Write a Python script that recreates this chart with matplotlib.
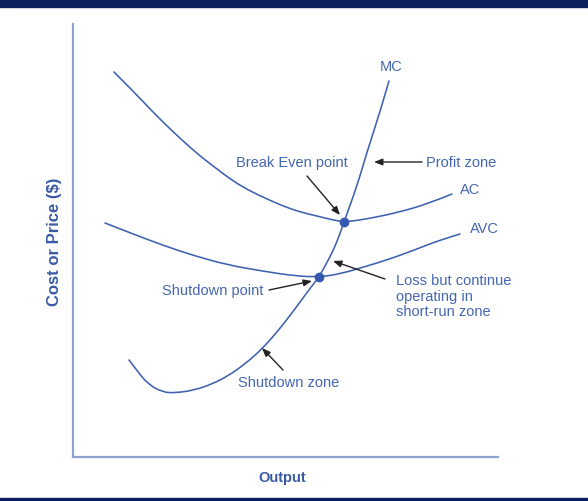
import matplotlib.pyplot as plt
from matplotlib.patches import Rectangle, PathPatch
from matplotlib.path import Path

# curve points (output, cost) - origin at the axis corner
ac_x = [41, 60, 77, 94, 110, 127, 144, 160, 177, 194, 210, 227, 244, 260, 272, 294, 327, 357, 379]
ac_y = [385, 366, 348, 331, 316, 301, 288, 276, 266, 258, 251, 245, 241, 237, 235, 238, 245, 254, 263]

avc_x = [32, 55, 89, 122, 155, 189, 222, 246, 267, 294, 317, 344, 367, 387]
avc_y = [234, 225, 212, 201, 192, 186, 181, 180, 183, 191, 198, 208, 217, 223]

mc_x = [56, 65, 75, 89, 102, 122, 139, 155, 172, 189, 205, 222, 235, 246, 257, 264, 271, 284, 294, 307, 316]
mc_y = [97, 85, 73, 65, 64, 67, 73, 81, 93, 108, 126, 148, 166, 180, 200, 215, 235, 271, 305, 345, 376]

break_even = (271, 235)
shutdown = (246, 180)

curve_col = '#3f62b0'
text_col = '#4466b2'
title_col = '#3a5aa6'
axis_col = '#8da1d2'
navy = '#0b1f5c'


def smooth_curve(ax, xs, ys):
    # quadratic bezier through midpoints, read points act as control points
    pts = list(zip(xs, ys))
    verts = [pts[0]]
    codes = [Path.MOVETO]
    for i in range(1, len(pts) - 1):
        mid = ((pts[i][0] + pts[i + 1][0]) / 2, (pts[i][1] + pts[i + 1][1]) / 2)
        if i == len(pts) - 2:
            mid = pts[-1]
        verts += [pts[i], mid]
        codes += [Path.CURVE3, Path.CURVE3]
    ax.add_patch(PathPatch(Path(verts, codes), facecolor='none', edgecolor=curve_col,
                           lw=1.15, capstyle='round'))


fig = plt.figure(figsize=(5.88, 5.02), dpi=100)
plt.rcParams['font.family'] = ['Liberation Sans', 'DejaVu Sans']

ax = fig.add_axes([73 / 588, 44 / 502, 425 / 588, 433 / 502])
ax.set_xlim(0, 425)
ax.set_ylim(0, 433)
ax.set_xticks([])
ax.set_yticks([])
for s in ['top', 'right']:
    ax.spines[s].set_visible(False)
for s in ['left', 'bottom']:
    ax.spines[s].set_color(axis_col)
    ax.spines[s].set_linewidth(1.6)

smooth_curve(ax, ac_x, ac_y)
smooth_curve(ax, avc_x, avc_y)
smooth_curve(ax, mc_x, mc_y)
ax.plot(*break_even, 'o', color='#3559b0', ms=6, zorder=5)
ax.plot(*shutdown, 'o', color='#3559b0', ms=6, zorder=5)

fs = 10.5
ax.text(318, 391, 'MC', color=text_col, fontsize=fs, ha='center', va='center')
ax.text(397, 268, 'AC', color=text_col, fontsize=fs, ha='center', va='center')
ax.text(411, 229, 'AVC', color=text_col, fontsize=fs, ha='center', va='center')

arrow = dict(arrowstyle='-|>,head_length=0.5,head_width=0.2', color='#222222', lw=1.0,
             mutation_scale=10, shrinkA=0, shrinkB=0)
ax.text(353, 295, 'Profit zone', color=text_col, fontsize=fs, ha='left', va='center')
ax.annotate('', xy=(301, 295), xytext=(349, 295), arrowprops=arrow)
ax.text(219, 295, 'Break Even point', color=text_col, fontsize=fs, ha='center', va='center')
ax.annotate('', xy=(267, 242), xytext=(234, 281), arrowprops=arrow)
ax.text(323, 184, 'Loss but continue\noperating in\nshort-run zone', color=text_col,
        fontsize=fs, ha='left', va='top', linespacing=1.15)
ax.annotate('', xy=(260, 196), xytext=(312, 178), arrowprops=arrow)
ax.text(190, 167, 'Shutdown point', color=text_col, fontsize=fs, ha='right', va='center')
ax.annotate('', xy=(239, 176), xytext=(196, 167), arrowprops=arrow)
ax.text(165, 75, 'Shutdown zone', color=text_col, fontsize=fs, ha='left', va='center')
ax.annotate('', xy=(189, 109), xytext=(210, 87), arrowprops=arrow)

fig.text(54 / 588, 260 / 502, 'Cost or Price ($)', rotation=90, color=title_col,
         fontsize=12, fontweight='bold', ha='center', va='center')
fig.text(282 / 588, 24 / 502, 'Output', color=title_col, fontsize=fs,
         fontweight='bold', ha='center', va='center')

# dark bands at the top and bottom edges
fig.patches.append(Rectangle((0, 494 / 502), 1, 8 / 502, transform=fig.transFigure,
                             color=navy, zorder=10))
fig.patches.append(Rectangle((0, 0), 1, 3 / 502, transform=fig.transFigure,
                             color=navy, zorder=10))

fig.savefig('out.png', dpi=100)
